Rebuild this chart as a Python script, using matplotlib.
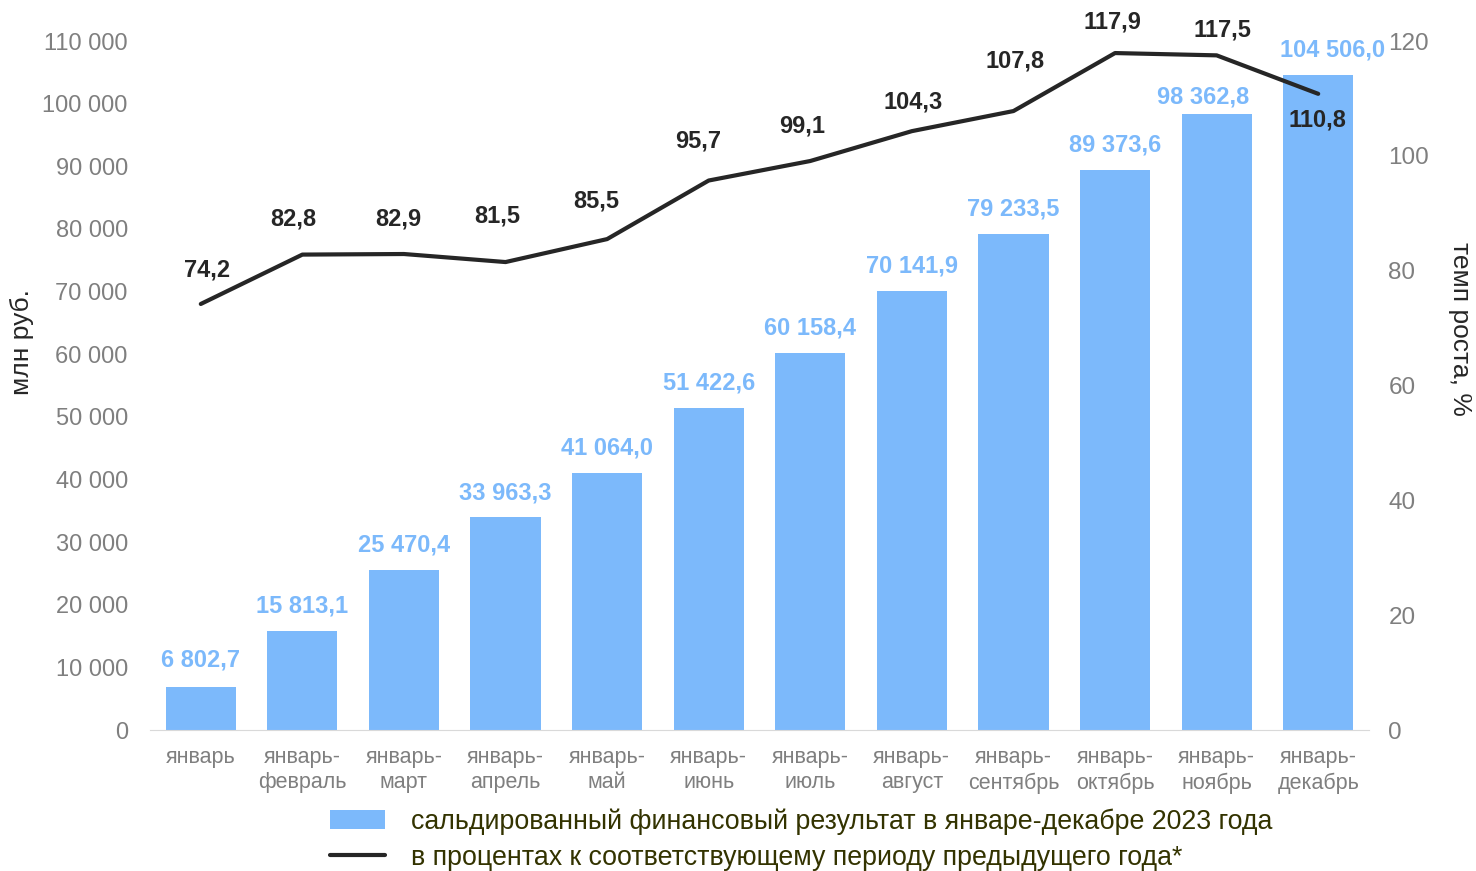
import matplotlib
matplotlib.use('Agg')
import matplotlib.pyplot as plt
import numpy as np

plt.rcParams['font.family'] = ['Liberation Sans', 'DejaVu Sans']

months = ['январь', 'январь-\nфевраль', 'январь-\nмарт', 'январь-\nапрель', 'январь-\nмай',
          'январь-\nиюнь', 'январь-\nиюль', 'январь-\nавгуст', 'январь-\nсентябрь',
          'январь-\nоктябрь', 'январь-\nноябрь', 'январь-\nдекабрь']
result_values = [6802.7, 15813.1, 25470.4, 33963.3, 41064.0, 51422.6, 60158.4,
                 70141.9, 79233.5, 89373.6, 98362.8, 104506.0]
growth_values = [74.2, 82.8, 82.9, 81.5, 85.5, 95.7, 99.1, 104.3, 107.8, 117.9, 117.5, 110.8]
left_ticks = [0, 10000, 20000, 30000, 40000, 50000, 60000, 70000, 80000, 90000, 100000, 110000]
right_ticks = [0, 20, 40, 60, 80, 100, 120]

# label placement (pixel offsets from the data point to the label centre)
bar_label_offsets = [(0, 27), (0, 25), (0, 25), (0, 24), (0, 25), (0, 25), (0, 25),
                     (0, 25), (0, 25), (0, 25), (-13, 17), (14, 25)]
line_label_offsets = [(6, 34), (-9, 36), (-6, 35), (-8, 46), (-11, 38), (-11, 40), (-8, 35),
                      (1, 29), (2, 50), (-3, 31), (6, 25), (-1, -26)]

bar_color = '#7cb9fb'
line_color = '#262626'
tick_color = '#7f7f7f'
legend_text_color = '#333300'


def fmt_thousands(v):
    return f'{v:,.0f}'.replace(',', ' ')


def fmt_value(v):
    return f'{v:,.1f}'.replace(',', ' ').replace('.', ',')


fig = plt.figure(figsize=(14.76, 8.71), dpi=100)
ax = fig.add_axes([150 / 1476, 1 - 730 / 871, (1369 - 150) / 1476, (730 - 41) / 871])
ax2 = ax.twinx()

x = np.arange(len(months))
bars = ax.bar(x, result_values, width=0.69, color=bar_color, zorder=2)
ax.set_xlim(-0.5, len(months) - 0.5)
ax.set_ylim(0, 110000)
ax.set_yticks(left_ticks)
ax.set_yticklabels([fmt_thousands(t) for t in left_ticks])
ax.set_xticks(x)
ax.set_xticklabels(months, linespacing=1.3)

for v, xi, off in zip(result_values, x, bar_label_offsets):
    ax.annotate(fmt_value(v), (xi, v), xytext=off, textcoords='offset pixels',
                ha='center', va='center', fontsize=17, fontweight='bold',
                color=bar_color, annotation_clip=False)

line, = ax2.plot(x, growth_values, color=line_color, lw=3, zorder=3,
                 solid_joinstyle='round', solid_capstyle='round')
ax2.set_ylim(0, 120)
ax2.set_yticks(right_ticks)

for v, xi, off in zip(growth_values, x, line_label_offsets):
    ax2.annotate(fmt_value(v), (xi, v), xytext=off, textcoords='offset pixels',
                 ha='center', va='center', fontsize=17, fontweight='bold',
                 color=line_color, annotation_clip=False)

for a in (ax, ax2):
    for s in a.spines.values():
        s.set_visible(False)
    a.tick_params(length=0, colors=tick_color)
ax.spines['bottom'].set_visible(True)
ax.spines['bottom'].set_color('#d9d9d9')
ax.tick_params(axis='y', labelsize=17, pad=16)
ax.tick_params(axis='x', labelsize=15.5, pad=12)
ax2.tick_params(axis='y', labelsize=17.5, pad=14)

fig.text(22 / 1476, 1 - 342 / 871, 'млн руб.', rotation=90, ha='center', va='center',
         fontsize=19, color='#262626')
fig.text(1460 / 1476, 1 - 329 / 871, 'темп роста, %', rotation=-90, ha='center', va='center',
         fontsize=19, color='#262626')

fig.legend([bars, line],
           ['сальдированный финансовый результат в январе-декабре 2023 года',
            'в процентах к соответствующему периоду предыдущего года*'],
           loc='upper left', bbox_to_anchor=(319 / 1476, 1 - 798 / 871), frameon=False,
           fontsize=19.3, labelcolor=legend_text_color, handlelength=2.05, handletextpad=1.0,
           labelspacing=0.36, borderaxespad=0)

fig.savefig('out.png', dpi=100)
